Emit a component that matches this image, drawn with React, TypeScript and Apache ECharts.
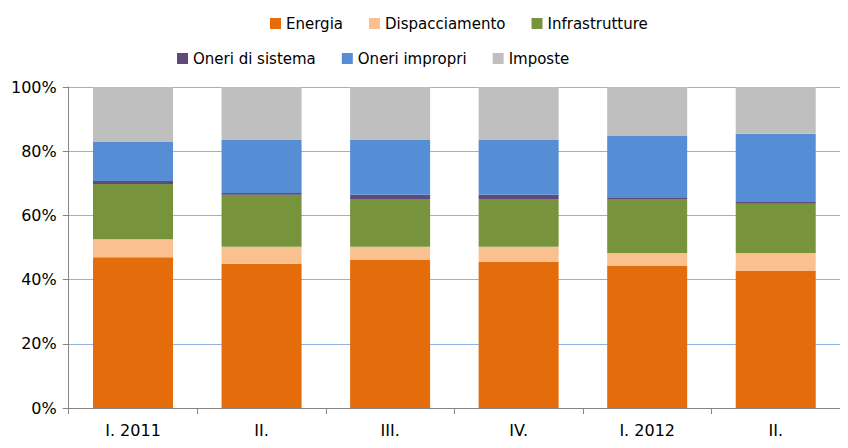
import React, { useEffect, useRef } from "react";
import * as echarts from "echarts";

const categories = ["I. 2011", "II.", "III.", "IV.", "I. 2012", "II."];
const energia = [47.0, 44.9, 46.1, 45.5, 44.2, 42.7];
const dispacciamento = [5.6, 5.3, 4.1, 4.7, 4.1, 5.6];
const infrastrutture = [17.2, 16.2, 14.9, 14.9, 16.8, 15.3];
const oneriSistema = [0.9, 0.6, 1.3, 1.3, 0.3, 0.6];
const oneriImpropri = [12.2, 16.5, 17.1, 17.1, 19.3, 21.2];
const imposte = [17.1, 16.5, 16.5, 16.5, 15.3, 14.6];

const seriesDefs = [
  { name: "Energia", data: energia, color: "#E46C0A" },
  { name: "Dispacciamento", data: dispacciamento, color: "#FAC090" },
  { name: "Infrastrutture", data: infrastrutture, color: "#77933C" },
  { name: "Oneri di sistema", data: oneriSistema, color: "#604A7B" },
  { name: "Oneri impropri", data: oneriImpropri, color: "#558ED5" },
  { name: "Imposte", data: imposte, color: "#BFBFBF" },
];

const font = "DejaVu Sans";

const App: React.FC = () => {
  const chartRef = useRef<HTMLDivElement | null>(null);

  useEffect(() => {
    if (!chartRef.current) return;
    const chart = echarts.init(chartRef.current, undefined, { renderer: "svg" });
    const legendBase = {
      icon: "rect",
      itemWidth: 11,
      itemHeight: 11,
      itemGap: 26,
      textStyle: { fontFamily: font, fontSize: 15, color: "#000" },
    };
    chart.setOption({
      animation: false,
      legend: [
        { ...legendBase, top: 3, left: 257, data: seriesDefs.slice(0, 3).map((s) => s.name) },
        { ...legendBase, top: 38, left: 164, data: seriesDefs.slice(3).map((s) => s.name) },
      ],
      grid: { left: 60, right: 0, top: 79, bottom: 32 },
      xAxis: {
        type: "category",
        data: categories,
        axisLine: { lineStyle: { color: "#868686" } },
        axisTick: { show: true, length: 6, lineStyle: { color: "#868686" } },
        axisLabel: { fontFamily: font, fontSize: 16, color: "#000", margin: 14 },
      },
      yAxis: {
        type: "value",
        min: 0,
        max: 100,
        interval: 20,
        axisLine: { show: true, lineStyle: { color: "#868686" } },
        axisTick: { show: true, length: 6, lineStyle: { color: "#868686" } },
        splitLine: { lineStyle: { color: "#8EB4E3", width: 1 } },
        axisLabel: { fontFamily: font, fontSize: 16, color: "#000", formatter: "{value}%", margin: 12 },
      },
      series: seriesDefs.map((s) => ({
        name: s.name,
        type: "bar",
        stack: "total",
        data: s.data,
        barWidth: 80,
        itemStyle: { color: s.color },
      })),
    });
    return () => chart.dispose();
  }, []);

  return <div ref={chartRef} style={{ width: 832, height: 432 }} />;
};

export default App;
